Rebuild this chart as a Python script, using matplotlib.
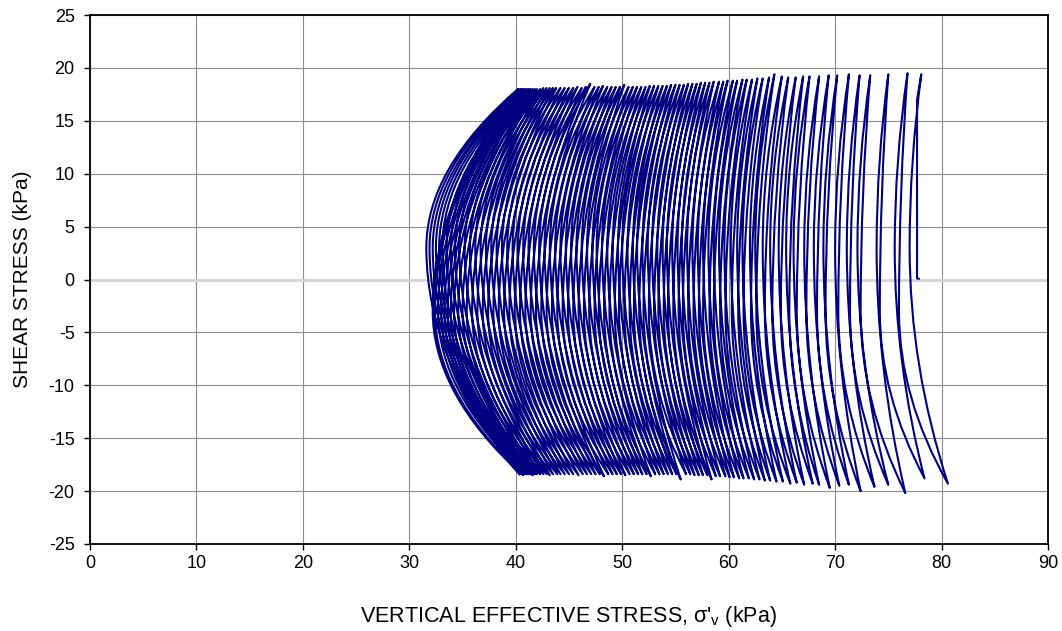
import matplotlib
matplotlib.use("Agg")
import matplotlib.pyplot as plt
from matplotlib.path import Path
from matplotlib.patches import PathPatch

plt.rcParams['font.family'] = ['Liberation Sans', 'DejaVu Sans']
plt.rcParams['axes.unicode_minus'] = False

# ---------------- data ----------------
# initial loading segment
start_sigma = [77.95, 77.7, 77.7]
start_tau = [0.05, 0.1, 17.0]

# peak of each cycle in compression (top) : sigma'v, tau
top_sigma = [78.1, 76.8, 75.0, 73.3, 72.3, 71.3, 70.2, 69.4, 68.5, 67.6,
             67.0, 66.3, 65.6, 65.0, 64.3, 63.8, 63.2, 62.7, 62.2, 61.7,
             61.3, 60.8, 60.4, 59.9, 59.5, 59.1, 58.6, 58.2, 57.8, 57.4,
             57.0, 56.6, 56.2, 55.8, 55.4, 55.0, 54.6, 54.2, 53.8, 53.4,
             53.0, 52.6, 52.2, 51.8, 51.4, 51.0, 50.6, 50.2, 49.8, 49.4,
             49.0, 48.6, 48.2, 47.8, 47.4, 47.0, 46.6, 46.2, 45.8, 45.4,
             45.0, 44.6, 44.2, 43.8, 43.5, 43.2, 42.9, 42.6, 42.3, 42.0,
             41.8, 41.6, 41.4, 41.2, 41.0, 40.8, 40.6, 40.5, 40.3, 40.2]
top_tau = [19.4, 19.5, 19.4, 19.3, 19.3, 19.4, 19.3, 19.3, 19.2, 19.2,
           19.2, 19.1, 19.1, 19.2, 19.4, 19.1, 19.0, 19.0, 18.9, 18.9,
           18.9, 18.8, 18.8, 18.8, 18.7, 18.7, 18.7, 18.6, 18.6, 18.6,
           18.5, 18.5, 18.5, 18.4, 18.4, 18.4, 18.4, 18.3, 18.3, 18.3,
           18.3, 18.3, 18.2, 18.2, 18.2, 18.2, 18.2, 18.4, 18.2, 18.2,
           18.2, 18.2, 18.3, 18.2, 18.2, 18.5, 18.2, 18.1, 18.2, 18.1,
           18.1, 18.1, 18.1, 18.1, 18.1, 18.1, 18.1, 18.1, 18.0, 18.0,
           18.0, 18.0, 18.0, 18.0, 18.0, 18.0, 18.0, 18.0, 18.0, 18.0]

# peak of each cycle in extension (bottom)
bottom_sigma = [80.6, 78.4, 76.6, 75.0, 73.7, 72.4, 71.3, 70.4, 69.5, 68.5,
                67.9, 67.1, 66.4, 65.8, 65.1, 64.5, 63.9, 63.4, 62.9, 62.4,
                61.9, 61.4, 61.0, 60.5, 60.1, 59.7, 59.2, 58.8, 58.4, 58.0,
                57.6, 57.2, 56.8, 56.4, 56.0, 55.5, 55.1, 54.7, 54.3, 53.9,
                53.5, 53.1, 52.7, 52.3, 51.9, 51.5, 51.1, 50.7, 50.3, 49.9,
                49.5, 49.1, 48.7, 48.3, 47.9, 47.5, 47.1, 46.7, 46.3, 45.9,
                45.4, 45.0, 44.6, 44.2, 43.9, 43.5, 43.2, 42.9, 42.6, 42.3,
                42.0, 41.8, 41.6, 41.4, 41.2, 41.0, 40.9, 40.7, 40.5, 40.4]
bottom_tau = [-19.3, -18.8, -20.2, -19.4, -19.6, -20.0, -19.4, -19.5, -19.7, -19.4,
              -19.3, -19.4, -19.2, -19.3, -19.1, -19.1, -19.0, -19.0, -18.9, -18.9,
              -18.8, -18.8, -18.8, -18.7, -18.7, -18.6, -18.6, -18.6, -18.9, -18.5,
              -18.5, -18.5, -18.5, -18.4, -18.4, -18.9, -18.4, -18.4, -18.4, -18.4,
              -18.4, -18.4, -18.6, -18.4, -18.4, -18.4, -18.4, -18.4, -18.5, -18.4,
              -18.4, -18.4, -18.4, -18.6, -18.4, -18.4, -18.4, -18.4, -18.4, -18.5,
              -18.4, -18.4, -18.4, -18.4, -18.4, -18.4, -18.5, -18.4, -18.4, -18.4,
              -18.4, -18.4, -18.5, -18.4, -18.4, -18.4, -18.4, -18.5, -18.4, -18.5]

# lowest sigma'v reached while unloading (top -> bottom) and reloading (bottom -> next top)
down_waist_sigma = [77.0, 75.6, 73.9, 72.1, 71.1, 70.0, 68.9, 68.0, 67.1, 66.1,
                    65.4, 64.7, 63.9, 63.2, 62.5, 62.0, 61.3, 60.8, 60.2, 59.6,
                    59.1, 58.6, 58.1, 57.6, 57.1, 56.6, 56.1, 55.6, 55.2, 54.7,
                    54.2, 53.8, 53.3, 52.8, 52.4, 51.9, 51.4, 51.0, 50.5, 50.0,
                    49.6, 49.1, 48.6, 48.1, 47.6, 47.2, 46.7, 46.2, 45.7, 45.2,
                    44.7, 44.2, 43.7, 43.2, 42.7, 42.2, 41.7, 41.2, 40.7, 40.2,
                    39.7, 39.2, 38.7, 38.2, 37.7, 37.2, 36.7, 36.2, 35.7, 35.2,
                    34.7, 34.3, 33.9, 33.5, 33.1, 32.8, 32.5, 32.2, 31.9, 31.6]
up_waist_sigma = [76.0, 74.2, 72.4, 71.4, 70.3, 69.1, 68.3, 67.3, 66.4, 65.7,
                  64.9, 64.1, 63.4, 62.6, 62.1, 61.4, 60.9, 60.3, 59.7, 59.2,
                  58.6, 58.2, 57.6, 57.2, 56.7, 56.2, 55.7, 55.3, 54.8, 54.3,
                  53.9, 53.4, 53.0, 52.5, 52.0, 51.6, 51.1, 50.7, 50.2, 49.7,
                  49.3, 48.8, 48.3, 47.8, 47.4, 46.9, 46.4, 45.9, 45.4, 44.9,
                  44.4, 43.9, 43.4, 42.9, 42.4, 41.9, 41.4, 40.9, 40.4, 39.9,
                  39.4, 38.9, 38.4, 37.9, 37.4, 36.9, 36.4, 35.9, 35.4, 35.0,
                  34.6, 34.2, 33.9, 33.6, 33.3, 33.0, 32.7, 32.4, 32.2]
down_waist_tau = 3.0
up_waist_tau = -3.0

x_ticks = [0, 10, 20, 30, 40, 50, 60, 70, 80, 90]
y_ticks = [-25, -20, -15, -10, -5, 0, 5, 10, 15, 20, 25]

# ---------------- build the stress path ----------------
verts, codes = [], []


def line_to(p):
    codes.append(Path.LINETO if verts else Path.MOVETO)
    verts.append(p)


def curve_to(p_from, waist, p_to, f=0.5):
    # curve through the waist (vertical tangent there) using quadratic Beziers
    c1 = (waist[0], waist[1] + f * (p_from[1] - waist[1]))
    c2 = (waist[0], waist[1] + f * (p_to[1] - waist[1]))
    verts.extend([c1, waist, c2, p_to])
    codes.extend([Path.CURVE3] * 4)


for s, t in zip(start_sigma, start_tau):
    line_to((s, t))

n = len(top_sigma)
line_to((top_sigma[0], top_tau[0]))
for k in range(n):
    top = (top_sigma[k], top_tau[k])
    bot = (bottom_sigma[k], bottom_tau[k])
    curve_to(top, (down_waist_sigma[k], down_waist_tau), bot)
    if k + 1 < n:
        nxt = (top_sigma[k + 1], top_tau[k + 1])
        curve_to(bot, (up_waist_sigma[k], up_waist_tau), nxt)

path = Path(verts, codes)

# ---------------- figure ----------------
fig = plt.figure(figsize=(10.62, 6.31), dpi=100)
ax = fig.add_axes([0.0847, 0.1379, 0.9021, 0.8383])

ax.add_patch(PathPatch(path, facecolor='none', edgecolor='#000080',
                       lw=1.5, joinstyle='round', zorder=3))

ax.set_xlim(0, 90)
ax.set_ylim(-25, 25)
ax.set_xticks(x_ticks)
ax.set_yticks(y_ticks)

ax.set_axisbelow(True)
ax.grid(True, color='#8c8c8c', lw=0.8)
for val, gl in zip(y_ticks, ax.yaxis.get_gridlines()):
    if val == 0:
        gl.set_color('#d4d4d4')
        gl.set_linewidth(2.0)

for sp in ax.spines.values():
    sp.set_color('black')
    sp.set_linewidth(1.3)

ax.tick_params(direction='out', length=4, width=1.0, labelsize=13,
               colors='black')
ax.tick_params(axis='x', pad=4)
ax.tick_params(axis='y', pad=7)

ax.set_xlabel("VERTICAL EFFECTIVE STRESS, σ'$_\\mathregular{v}$ (kPa)",
              fontsize=15.5, labelpad=23)
ax.set_ylabel("SHEAR STRESS (kPa)", fontsize=15, labelpad=12)

fig.savefig("out.png", dpi=100)
